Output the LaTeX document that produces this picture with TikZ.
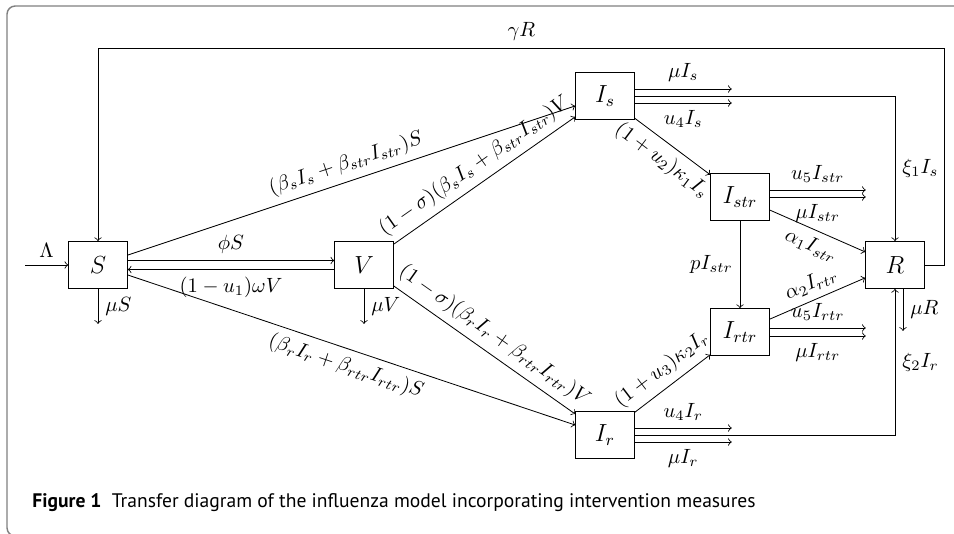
\documentclass[tikz,border=0pt]{standalone}
\usepackage{fontspec}
\newfontfamily\capfont{PT Sans}
\usetikzlibrary{calc}
\begin{document}
\begin{tikzpicture}[x=0.485pt,y=-0.485pt,
  box/.style={draw, minimum width=1cm, minimum height=0.8cm, font=\large, inner sep=0pt},
  frame/.style={draw=black!50, line width=0.7pt, rounded corners=4pt}]
\useasboundingbox (0,0) rectangle (954,533);
\clip (0,0) rectangle (954,533);
\draw[frame] (7,6) rectangle (975,536);
% nodes
\node[box] (S) at (98,265) {$S$};
\node[box] (V) at (364,265) {$V$};
\node[box] (Is) at (605,96) {$I_s$};
\node[box] (Istr) at (740,197) {$I_{str}$};
\node[box] (R) at (895,265) {$R$};
\node[box] (Irtr) at (740,332) {$I_{rtr}$};
\node[box] (Ir) at (605,435) {$I_r$};
% free ends
\coordinate (Lam) at (25,265);
\coordinate (top) at (0,48);
\coordinate (g1) at ($(R.east)+(20,0)$);
\coordinate (muS) at ($(S.south)+(0,35)$);
\coordinate (muV) at ($(V.south)+(0,35)$);
\coordinate (Rs) at ($(R.south)+(8,0)$);
\coordinate (muR) at ($(R.south)+(8,42)$);
% S and V
\draw[->] (Lam) -- node[above]{$\Lambda$} (S);
\draw[->] ($(S.east)+(0,-4.5)$) -- node[above]{$\phi S$} ($(V.west)+(0,-4.5)$);
\draw[->] ($(V.west)+(0,4.5)$) -- node[below]{$(1-u_1)\omega V$} ($(S.east)+(0,4.5)$);
\draw[->] (S.south) -- node[right]{$\mu S$} (muS);
\draw[->] (V.south) -- node[right]{$\mu V$} (muV);
% infections
\draw[->] (S) -- node[above,sloped]{$(\beta_s I_s+\beta_{str}I_{str})S$} (Is);
\draw[->] (V) -- node[above,sloped]{$(1-\sigma)(\beta_s I_s+\beta_{str}I_{str})V$} (Is);
\draw[->] (V) -- node[above,sloped]{$(1-\sigma)(\beta_r I_r+\beta_{rtr}I_{rtr})V$} (Ir);
\draw[->] (S) -- node[below,sloped]{$(\beta_r I_r+\beta_{rtr}I_{rtr})S$} (Ir);
% progression
\draw[->] (Is) -- node[below,sloped]{$(1+u_2)\kappa_1 I_s$} (Istr);
\draw[->] (Ir) -- node[above,sloped]{$(1+u_3)\kappa_2 I_r$} (Irtr);
\draw[->] (Istr) -- node[left]{$pI_{str}$} (Irtr);
\draw[->] (Istr) -- node[below,sloped]{$\alpha_1 I_{str}$} (R);
\draw[->] (Irtr) -- node[above,sloped]{$\alpha_2 I_{rtr}$} (R);
% I_s outflows
\draw[->] ($(Is.east)+(0,-7)$) -- node[above]{$\mu I_s$} ($(Is.east)+(97,-7)$);
\draw[->] ($(Is.east)+(0,7)$) -- node[below]{$u_4 I_s$} ($(Is.east)+(97,7)$);
\draw[->] (Is.east) -| node[pos=0.75,right]{$\xi_1 I_s$} (R.north);
% I_str outflows
\draw[->] ($(Istr.east)+(0,-7)$) -- node[above]{$u_5 I_{str}$} ($(Istr.east)+(96,-7)$);
\draw[->] (Istr.east) -- node[below]{$\mu I_{str}$} ($(Istr.east)+(96,0)$);
% I_rtr outflows
\draw[->] ($(Irtr.east)+(0,-4)$) -- node[above]{$u_5 I_{rtr}$} ($(Irtr.east)+(96,-4)$);
\draw[->] ($(Irtr.east)+(0,4)$) -- node[below]{$\mu I_{rtr}$} ($(Irtr.east)+(96,4)$);
% I_r outflows
\draw[->] ($(Ir.east)+(0,-7)$) -- node[above]{$u_4 I_r$} ($(Ir.east)+(97,-7)$);
\draw[->] ($(Ir.east)+(0,7)$) -- node[below]{$\mu I_r$} ($(Ir.east)+(97,7)$);
\draw[->] (Ir.east) -| node[pos=0.75,right]{$\xi_2 I_r$} (R.south);
% R
\draw[->] (Rs) -- node[right]{$\mu R$} (muR);
\draw[->] (R.east) -- (g1) -- (g1 |- top) -- node[above]{$\gamma R$} (S.north |- top) -- (S.north);
% caption
\node[anchor=base west, inner sep=0pt, font=\capfont\fontsize{9.5}{11}\selectfont] (cap) at (32,507)
  {\textbf{Figure 1}\hspace{5pt}Transfer diagram of the influenza model incorporating intervention measures};
\end{tikzpicture}
\end{document}
